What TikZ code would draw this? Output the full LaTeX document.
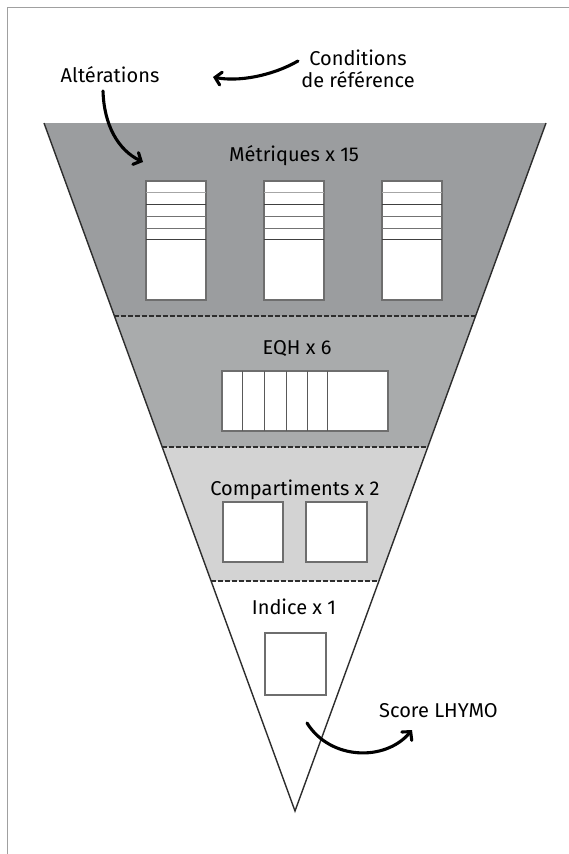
\documentclass[tikz,border=0pt]{standalone}
\usepackage{fontspec}
\setmainfont{Fira Sans}
\usetikzlibrary{arrows.meta,calc}
\definecolor{zoneA}{RGB}{155,157,159}
\definecolor{zoneB}{RGB}{169,171,172}
\definecolor{zoneC}{RGB}{211,211,211}
\definecolor{edge}{RGB}{45,45,45}
\definecolor{boxline}{RGB}{110,110,110}
\definecolor{framegray}{RGB}{160,160,160}
\tikzset{
  lbl/.style={font=\fontsize{20}{22}\selectfont, text=black, inner sep=0pt, align=center},
  bigarrow/.style={line width=3.1pt, line cap=round, -{Straight Barb[length=6pt,width=13pt,line cap=round]}},
  whitebox/.style={draw=boxline, fill=white, line width=1.1pt},
  sepline/.style={draw=edge, dashed, dash pattern=on 4.5pt off 2.5pt, line width=1.2pt},
  inner/.style={line width=1pt},
}
\begin{document}
\begin{tikzpicture}[x=1pt,y=-1pt]
\useasboundingbox (0,0) rectangle (569,854);
\fill[white] (0,0) rectangle (569,854);
% frame
\draw[framegray, line width=1pt] (7,854) -- (7,7) -- (569,7);
% triangle coordinates
\coordinate (TL) at (44,123);
\coordinate (TR) at (546,123);
\coordinate (A) at (295,811);
\coordinate (L1) at (114.4,316); \coordinate (R1) at (475.6,316);
\coordinate (L2) at (162.2,447); \coordinate (R2) at (427.8,447);
\coordinate (L3) at (211.1,581); \coordinate (R3) at (378.9,581);
% zones
\fill[zoneA] (TL) -- (TR) -- (R1) -- (L1) -- cycle;
\fill[zoneB] (L1) -- (R1) -- (R2) -- (L2) -- cycle;
\fill[zoneC] (L2) -- (R2) -- (R3) -- (L3) -- cycle;
\draw[edge, line width=1.4pt, line join=miter] (TL) -- (A) -- (TR);
\draw[sepline] (L1) -- (R1);
\draw[sepline] (L2) -- (R2);
\draw[sepline] (L3) -- (R3);
% labels
\node[lbl] (alt) at (110,75) {Altérations};
\node[lbl] (cond) at (358,69) {Conditions\\de référence};
\node[lbl] (met) at (294,156) {Métriques x 15};
\node[lbl] (eqh) at (297,349) {EQH x 6};
\node[lbl] (comp) at (295,490) {Compartiments x 2};
\node[lbl] (ind) at (294,607) {Indice x 1};
\node[lbl, anchor=west] (score) at (379,711) {Score LHYMO};
% metric boxes
\foreach \x in {146,264,382}{
  \draw[whitebox] (\x,181) rectangle ++(60,119);
  \draw[inner, draw=black!35] (\x,192) -- ++(60,0);
  \draw[inner, draw=black!75] (\x,204) -- ++(60,0);
  \draw[inner, draw=black!55] (\x,216) -- ++(60,0);
  \draw[inner, draw=black!55] (\x,228) -- ++(60,0);
  \draw[inner, draw=black!75] (\x,239) -- ++(60,0);
}
% EQH box
\draw[whitebox] (222,371) rectangle (388,431);
\foreach \x in {242,264,286,307,327}{
  \draw[inner, draw=black!65] (\x,371) -- (\x,431);
}
% compartments
\draw[whitebox] (223,502) rectangle (283,562);
\draw[whitebox] (306,502) rectangle (367,562);
% indice
\draw[whitebox] (265,633) rectangle (326,695);
% arrows
\coordinate (c1s) at (298,61);
\coordinate (c1e) at (213,77);
\draw[bigarrow] (c1s) .. controls (272,76) and (238,82) .. (c1e);
\coordinate (a1s) at (103,91);
\coordinate (a1e) at (143,162);
\draw[bigarrow] (a1s) .. controls (104,125) and (118,150) .. (a1e);
\coordinate (s1s) at (307,723);
\coordinate (s1e) at (412,730);
\draw[bigarrow] (s1s) .. controls (330,760) and (385,762) .. (s1e);
\end{tikzpicture}
\end{document}
